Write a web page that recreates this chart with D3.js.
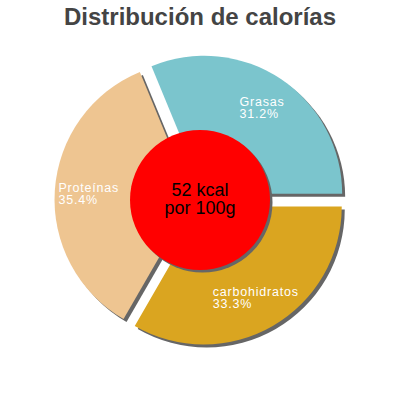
<!DOCTYPE html>
<html>
<head>
<meta charset="utf-8">
<script src="https://cdn.jsdelivr.net/npm/d3@7"></script>
<style>
  body { margin: 0; background: #fff; }
  svg { display: block; font-family: "Liberation Sans", Arial, sans-serif; }
</style>
</head>
<body>
<svg id="chart"></svg>
<script>
// data
const categories = ["Grasas", "Proteínas", "carbohidratos"];
const values = [31.2, 35.4, 33.3];
const colors = ["#7bc5cd", "#eec591", "#daa520"];
const title = "Distribución de calorías";
const centerLines = ["52 kcal", "por 100g"];

const width = 400, height = 400;
const cx = 200, cy = 200;
const radius = 138;
const explode = 7.5;

const svg = d3.select("#chart")
    .attr("width", width)
    .attr("height", height)
    .attr("viewBox", `0 0 ${width} ${height}`);

svg.append("text")
    .attr("x", width / 2)
    .attr("y", 25)
    .attr("text-anchor", "middle")
    .attr("font-size", 24)
    .attr("font-weight", "bold")
    .attr("fill", "#444")
    .text(title);

const data = categories.map((name, i) => ({ name, value: values[i], color: colors[i] }));

// start at 3 o'clock and go counter-clockwise
const pie = d3.pie()
    .sort(null)
    .value(d => d.value)
    .startAngle(Math.PI / 2)
    .endAngle(Math.PI / 2 - 2 * Math.PI);

const arcs = pie(data);
const arc = d3.arc().innerRadius(0).outerRadius(radius);
const dirArc = d3.arc().innerRadius(1).outerRadius(1);
const labelArc = d3.arc().innerRadius(104).outerRadius(104);

const offset = d => {
    const [x, y] = dirArc.centroid(d);
    const l = Math.hypot(x, y);
    return [x / l * explode, y / l * explode];
};

const g = svg.append("g").attr("transform", `translate(${cx} ${cy})`);

// shadows first
g.selectAll("path.shadow")
    .data(arcs)
    .enter()
    .append("path")
    .attr("class", "shadow")
    .attr("d", arc)
    .attr("fill", "#666")
    .attr("transform", d => {
        const [ox, oy] = offset(d);
        return `translate(${ox + 3} ${oy + 3})`;
    });

const slices = g.selectAll("g.slice")
    .data(arcs)
    .enter()
    .append("g")
    .attr("class", "slice")
    .attr("transform", d => {
        const [ox, oy] = offset(d);
        return `translate(${ox} ${oy})`;
    });

slices.append("path")
    .attr("d", arc)
    .attr("fill", d => d.data.color);

// center disc
g.append("circle")
    .attr("cx", 2.5)
    .attr("cy", 2.5)
    .attr("r", 70)
    .attr("fill", "#666");
g.append("circle")
    .attr("r", 70)
    .attr("fill", "#ff0000");

g.selectAll("text.center")
    .data(centerLines)
    .enter()
    .append("text")
    .attr("class", "center")
    .attr("x", 0)
    .attr("y", (d, i) => -4 + i * 18)
    .attr("text-anchor", "middle")
    .attr("font-size", 18)
    .attr("fill", "#000")
    .text(d => d);

// labels: two lines, left aligned, block centered on the label point
slices.each(function (d) {
    const [lx, ly] = labelArc.centroid(d);
    const t = d3.select(this).append("text")
        .attr("font-size", 12.5)
        .attr("letter-spacing", "0.8px")
        .attr("fill", "#fff");
    const l1 = t.append("tspan").text(d.data.name);
    const w = l1.node().getComputedTextLength();
    l1.attr("x", lx - w / 2).attr("y", ly - 1);
    t.append("tspan")
        .attr("x", lx - w / 2)
        .attr("y", ly + 11)
        .text(d.data.value.toFixed(1) + "%");
});
</script>
</body>
</html>
